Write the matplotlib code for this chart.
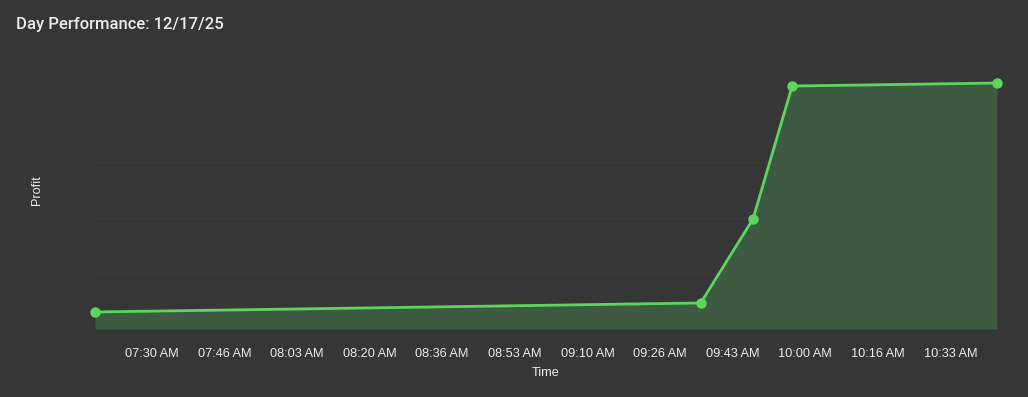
import matplotlib

matplotlib.use("Agg")
import matplotlib.dates as mdates
import matplotlib.pyplot as plt
import pandas as pd

# ── Data ───────────────────────────────────────────────────────────────────
trade_times = ["07:17", "09:36", "09:48", "09:57", "10:44"]
profit = [15.3, 23.4, 98.9, 218.5, 221.2]

tick_start = "07:30:00"
tick_step_seconds = 1000
n_ticks = 12

title = "Day Performance: 12/17/25"
day = "2025-12-17"

# ── Style ──────────────────────────────────────────────────────────────────
BG = "#363636"
LINE = "#5cd65c"
FILL = "#3f5a42"
GRID = "#3a3a3a"
TEXT = "#ececec"

x = pd.to_datetime([f"{day} {t}" for t in trade_times])
ticks = pd.date_range(f"{day} {tick_start}", periods=n_ticks,
                      freq=f"{tick_step_seconds}s")

fig = plt.figure(figsize=(10.28, 3.97), dpi=100, facecolor=BG)
ax = fig.add_axes([95 / 1028, 1 - 329 / 397, (997 - 95) / 1028, (329 - 51) / 397])
ax.set_facecolor(BG)

ymin, ymax = 0, 250
ax.fill_between(x, profit, ymin, color=FILL, lw=0, zorder=1)
ax.plot(x, profit, color=LINE, lw=2, marker="o", ms=6.5, zorder=3,
        solid_joinstyle="round", clip_on=False)

ax.set_xlim(x[0], x[-1])
ax.set_ylim(ymin, ymax)

ax.set_yticks([50, 100, 150, 200])
ax.yaxis.grid(True, color=GRID, lw=1, zorder=0)
ax.set_axisbelow(True)
ax.tick_params(axis="y", left=False, labelleft=False)

ax.set_xticks(ticks)
ax.xaxis.set_major_formatter(mdates.DateFormatter("%I:%M %p"))
ax.tick_params(axis="x", bottom=False, pad=10.5, labelsize=9.2, labelcolor=TEXT)
for lbl in ax.get_xticklabels():
    lbl.set_fontfamily(["Liberation Sans", "DejaVu Sans"])

for sp in ax.spines.values():
    sp.set_visible(False)

ax.set_xlabel("Time", color=TEXT, fontsize=9.2, family=["Liberation Sans"],
              labelpad=5)
ax.set_ylabel("Profit", color=TEXT, fontsize=9.2, family=["Liberation Sans"])
ax.yaxis.set_label_coords(-52 / 902, 0.5)

fig.text(16 / 1028, 1 - 25 / 397, title, color=TEXT, fontsize=12,
         family=["Roboto", "DejaVu Sans"], fontweight="medium",
         fontstretch="condensed", va="center", ha="left")

fig.savefig("out.png", dpi=100, facecolor=BG)
